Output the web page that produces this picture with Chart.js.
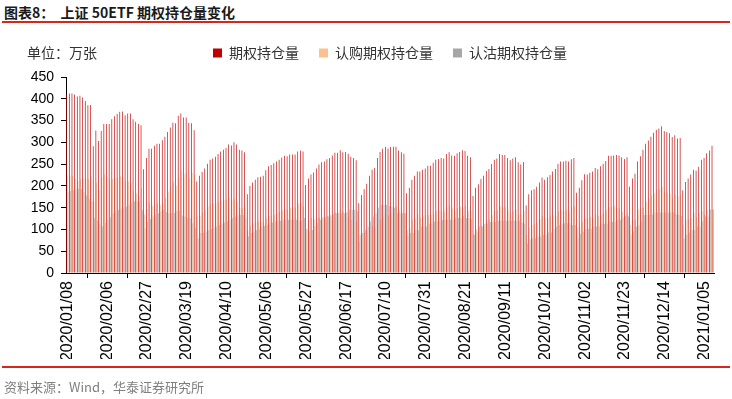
<!DOCTYPE html>
<html>
<head>
<meta charset="utf-8">
<script src="https://cdn.jsdelivr.net/npm/chart.js@4.4.0/dist/chart.umd.min.js"></script>
<style>
    body { margin: 0; background: #fff; }
    #wrap { position: relative; width: 732px; height: 399px; background: #fff; overflow: hidden; }
    #chart { position: absolute; left: 0; top: 0; }
    .title { position: absolute; left: 4px; top: 2px; font: bold 14px "Noto Sans CJK SC", sans-serif; color: #1a1a1a; white-space: pre; }
    .rule { position: absolute; left: 2px; width: 728px; height: 2px; background: #d9261c; z-index: 2; }
    .unit { position: absolute; left: 27px; top: 42px; font: 14px "Noto Sans CJK SC", sans-serif; color: #333; }
    .source { position: absolute; left: 4px; top: 377px; font: 13px "Noto Sans CJK SC", "Liberation Sans", sans-serif; color: #7f7f7f; }
</style>
</head>
<body>
<div id="wrap">
    <div class="title">图表8：  上证 50ETF 期权持仓量变化</div>
    <div class="rule" style="top:21px"></div>
    <canvas id="chart" width="732" height="399"></canvas>
    <div class="unit">单位：万张</div>
    <div class="rule" style="top:366px"></div>
    <div class="source">资料来源：Wind，华泰证券研究所</div>
</div>
<script>
// Trading days shown on the category axis (month -> days)
const tradingDays = [
    ['2020/01', [8, 9, 10, 13, 14, 15, 16, 17, 20, 21, 22, 23]],
    ['2020/02', [3, 4, 5, 6, 7, 10, 11, 12, 13, 14, 17, 18, 19, 20, 21, 24, 25, 26, 27, 28]],
    ['2020/03', [2, 3, 4, 5, 6, 9, 10, 11, 12, 13, 16, 17, 18, 19, 20, 23, 24, 25, 26, 27, 30, 31]],
    ['2020/04', [1, 2, 3, 7, 8, 9, 10, 13, 14, 15, 16, 17, 20, 21, 22, 23, 24, 27, 28, 29, 30]],
    ['2020/05', [6, 7, 8, 11, 12, 13, 14, 15, 18, 19, 20, 21, 22, 25, 26, 27, 28, 29]],
    ['2020/06', [1, 2, 3, 4, 5, 8, 9, 10, 11, 12, 15, 16, 17, 18, 19, 22, 23, 24, 29, 30]],
    ['2020/07', [1, 2, 3, 6, 7, 8, 9, 10, 13, 14, 15, 16, 17, 20, 21, 22, 23, 24, 27, 28, 29, 30, 31]],
    ['2020/08', [3, 4, 5, 6, 7, 10, 11, 12, 13, 14, 17, 18, 19, 20, 21, 24, 25, 26, 27, 28, 31]],
    ['2020/09', [1, 2, 3, 4, 7, 8, 9, 10, 11, 14, 15, 16, 17, 18, 21, 22, 23, 24, 25, 28, 29, 30]],
    ['2020/10', [9, 12, 13, 14, 15, 16, 19, 20, 21, 22, 23, 26, 27, 28, 29, 30]],
    ['2020/11', [2, 3, 4, 5, 6, 9, 10, 11, 12, 13, 16, 17, 18, 19, 20, 23, 24, 25, 26, 27, 30]],
    ['2020/12', [1, 2, 3, 4, 7, 8, 9, 10, 11, 14, 15, 16, 17, 18, 21, 22, 23, 24, 25, 28, 29, 30, 31]],
    ['2021/01', [4, 5, 6, 7, 8]]
];

const tickLabels = [
    '2020/01/08', '2020/02/06', '2020/02/27', '2020/03/19', '2020/04/10', '2020/05/06',
    '2020/05/27', '2020/06/17', '2020/07/10', '2020/07/31', '2020/08/21', '2020/09/11',
    '2020/10/12', '2020/11/02', '2020/11/23', '2020/12/14', '2021/01/05'
];

// 期权持仓量 (万张)
const totalOI = [
    410, 412, 412, 410, 405, 407, 403, 395, 385, 386,
    291, 327, 303, 326, 342, 342, 342, 353, 360, 365,
    370, 371, 362, 366, 366, 353, 347, 342, 339, 238,
    264, 285, 285, 292, 297, 297, 305, 313, 324, 334,
    345, 344, 361, 366, 357, 357, 345, 344, 328, 210,
    223, 232, 240, 251, 260, 263, 267, 273, 279, 283,
    287, 295, 293, 300, 295, 283, 281, 277, 181, 200,
    208, 214, 220, 221, 223, 236, 245, 248, 252, 256,
    260, 265, 269, 268, 272, 272, 272, 279, 281, 279,
    202, 217, 226, 231, 240, 249, 254, 256, 261, 264,
    270, 276, 276, 282, 277, 278, 274, 267, 264, 259,
    160, 179, 192, 205, 223, 237, 241, 264, 278, 285,
    290, 286, 289, 290, 290, 281, 277, 274, 183, 196,
    214, 223, 233, 233, 237, 240, 246, 246, 253, 260,
    262, 264, 263, 273, 277, 270, 269, 275, 278, 282,
    280, 269, 266, 177, 196, 204, 216, 223, 234, 239,
    250, 260, 263, 273, 271, 271, 264, 259, 263, 266,
    254, 249, 255, 155, 181, 190, 192, 198, 208, 219,
    214, 220, 225, 233, 239, 251, 256, 256, 258, 256,
    261, 264, 184, 196, 213, 227, 226, 230, 233, 241,
    238, 245, 251, 257, 269, 269, 270, 271, 270, 266,
    262, 266, 198, 217, 228, 256, 268, 283, 297, 304,
    313, 322, 329, 332, 337, 326, 324, 321, 312, 316,
    309, 310, 190, 209, 217, 226, 237, 235, 244, 260,
    264, 275, 281, 292
];

// 认购期权持仓量 (万张)
const callOI = [
    224, 224, 222, 217, 211, 215, 217, 217, 215, 222,
    165, 207, 191, 219, 227, 220, 214, 216, 219, 220,
    222, 221, 210, 210, 206, 189, 183, 179, 194, 135,
    147, 161, 155, 158, 160, 156, 160, 173, 187, 197,
    207, 201, 218, 234, 227, 231, 219, 230, 225, 130,
    131, 139, 145, 153, 159, 159, 160, 163, 166, 167,
    169, 173, 167, 170, 163, 150, 148, 151, 97, 108,
    113, 116, 119, 116, 115, 125, 131, 132, 134, 137,
    140, 144, 147, 146, 150, 150, 150, 159, 161, 153,
    101, 122, 127, 123, 126, 127, 128, 128, 131, 134,
    135, 139, 139, 145, 140, 139, 129, 122, 119, 118,
    72, 87, 93, 98, 105, 107, 104, 114, 122, 129,
    134, 132, 137, 140, 153, 144, 140, 137, 97, 104,
    122, 125, 135, 126, 130, 133, 133, 133, 135, 142,
    144, 142, 141, 151, 155, 148, 143, 149, 152, 151,
    154, 143, 143, 89, 101, 97, 109, 110, 121, 122,
    133, 143, 143, 153, 151, 151, 144, 139, 143, 146,
    134, 133, 142, 88, 104, 110, 112, 114, 124, 131,
    126, 127, 132, 132, 132, 141, 144, 142, 144, 142,
    151, 154, 104, 106, 118, 126, 125, 129, 126, 134,
    131, 132, 138, 144, 151, 152, 153, 149, 148, 140,
    132, 136, 110, 122, 121, 146, 150, 150, 164, 171,
    178, 183, 190, 193, 198, 187, 185, 182, 173, 181,
    176, 179, 111, 121, 124, 127, 138, 128, 137, 142,
    134, 145, 135, 146
];

// 认沽期权持仓量 (万张)
const putOI = [
    186, 188, 190, 193, 194, 192, 186, 178, 170, 164,
    126, 120, 112, 107, 115, 122, 128, 137, 141, 145,
    148, 150, 152, 156, 160, 164, 164, 163, 145, 103,
    117, 124, 130, 134, 137, 141, 145, 140, 137, 137,
    138, 143, 143, 132, 130, 126, 126, 114, 103, 80,
    92, 93, 95, 98, 101, 104, 107, 110, 113, 116,
    118, 122, 126, 130, 132, 133, 133, 126, 84, 92,
    95, 98, 101, 105, 108, 111, 114, 116, 118, 119,
    120, 121, 122, 122, 122, 122, 122, 120, 120, 126,
    101, 95, 99, 108, 114, 122, 126, 128, 130, 130,
    135, 137, 137, 137, 137, 139, 145, 145, 145, 141,
    88, 92, 99, 107, 118, 130, 137, 150, 156, 156,
    156, 154, 152, 150, 137, 137, 137, 137, 86, 92,
    92, 98, 98, 107, 107, 107, 113, 113, 118, 118,
    118, 122, 122, 122, 122, 122, 126, 126, 126, 131,
    126, 126, 123, 88, 95, 107, 107, 113, 113, 117,
    117, 117, 120, 120, 120, 120, 120, 120, 120, 120,
    120, 116, 113, 67, 77, 80, 80, 84, 84, 88,
    88, 93, 93, 101, 107, 110, 112, 114, 114, 114,
    110, 110, 80, 90, 95, 101, 101, 101, 107, 107,
    107, 113, 113, 113, 118, 117, 117, 122, 122, 126,
    130, 130, 88, 95, 107, 110, 118, 133, 133, 133,
    135, 139, 139, 139, 139, 139, 139, 139, 139, 135,
    133, 131, 79, 88, 93, 99, 99, 107, 107, 118,
    130, 130, 146, 146
];

const categories = [];
tradingDays.forEach(([month, days]) => {
    days.forEach(d => categories.push(month + '/' + String(d).padStart(2, '0')));
});

const cjkFont = '"Noto Sans CJK SC", sans-serif';
const numFont = '"Liberation Sans", Arial, sans-serif';

// lift the legend row a little above the plot, like the original layout
const legendLift = {
    id: 'legendLift',
    afterLayout(chart) {
        if (chart.legend) {
            chart.legend.top -= 7;
            chart.legend.bottom -= 7;
        }
    }
};

new Chart(document.getElementById('chart'), {
    type: 'bar',
    data: {
        labels: categories,
        datasets: [{
            label: '期权持仓量',
            data: totalOI,
            backgroundColor: '#C00000'
        }, {
            label: '认购期权持仓量',
            data: callOI,
            backgroundColor: '#FAC090'
        }, {
            label: '认沽期权持仓量',
            data: putOI,
            backgroundColor: '#A6A6A6'
        }]
    },
    plugins: [legendLift],
    options: {
        responsive: false,
        animation: false,
        devicePixelRatio: 1,
        layout: {
            padding: { left: 20, right: 18, top: 33, bottom: 40 }
        },
        datasets: {
            bar: {
                categoryPercentage: 0.75,
                barPercentage: 1,
                inflateAmount: 0
            }
        },
        plugins: {
            tooltip: { enabled: false },
            legend: {
                position: 'top',
                fullSize: false,
                align: 'center',
                labels: {
                    boxWidth: 9,
                    boxHeight: 9,
                    padding: 20,
                    color: '#333',
                    font: { family: cjkFont, size: 14 }
                }
            }
        },
        scales: {
            x: {
                grid: {
                    drawOnChartArea: false,
                    tickLength: 5,
                    color: '#000'
                },
                border: { color: '#000' },
                ticks: {
                    autoSkip: false,
                    minRotation: 90,
                    maxRotation: 90,
                    padding: 3,
                    color: '#000',
                    font: { family: numFont, size: 16 },
                    callback: (value, index) => tickLabels.includes(categories[index]) ? categories[index] : null
                },
                afterFit: scale => { scale.height = 86; }
            },
            y: {
                min: 0,
                max: 450,
                grid: {
                    drawOnChartArea: false,
                    tickLength: 5,
                    color: '#000'
                },
                border: { color: '#000' },
                ticks: {
                    stepSize: 50,
                    padding: 7,
                    color: '#000',
                    font: { family: numFont, size: 14 }
                },
                afterFit: scale => { scale.width = 46; }
            }
        }
    }
});
</script>
</body>
</html>
